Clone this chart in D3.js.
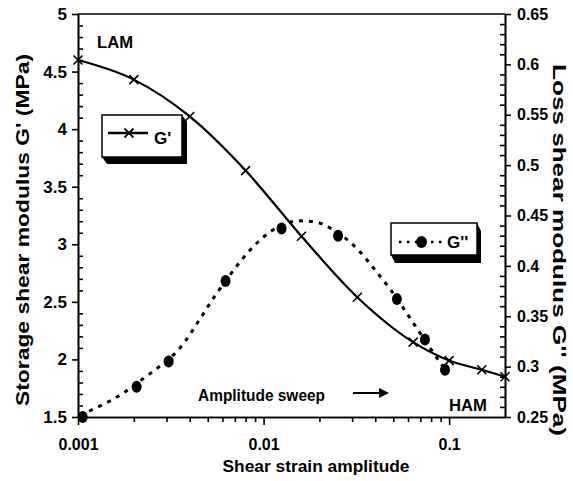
<!DOCTYPE html>
<html><head><meta charset="utf-8">
<script src="https://cdn.jsdelivr.net/npm/d3@7"></script>
<style>
html,body{margin:0;padding:0;background:#fff;}
svg{display:block;font-family:"Liberation Sans",Arial,Helvetica,sans-serif;font-weight:bold;}
</style></head><body>
<svg id="chart" width="573" height="481"></svg>
<script>
// Storage shear modulus G' (MPa) against shear strain amplitude
const strainStorage  = [0.001, 0.002, 0.004, 0.008, 0.016, 0.032, 0.064, 0.1, 0.15, 0.2];
const storageModulus = [4.60, 4.43, 4.11, 3.64, 3.07, 2.54, 2.15, 1.99, 1.91, 1.85];

// Loss shear modulus G'' (MPa), measured points
const strainLoss  = [0.00106, 0.00207, 0.00308, 0.00624, 0.0125, 0.0252, 0.0523, 0.0741, 0.095];
const lossModulus = [0.250, 0.280, 0.305, 0.385, 0.437, 0.430, 0.367, 0.327, 0.297];

// Fitted trend through the G'' points
const fitStrain = [0.001025, 0.001314, 0.001684, 0.002158, 0.002766, 0.003545, 0.004543, 0.005472,
                   0.006194, 0.007464, 0.00899, 0.01083, 0.01304, 0.01571, 0.01892, 0.0228,
                   0.02746, 0.03307, 0.03984, 0.04797, 0.0615, 0.07316, 0.09376];
const fitLoss   = [0.252, 0.2609, 0.2718, 0.2858, 0.3006, 0.3185, 0.3473, 0.3702,
                   0.3841, 0.4039, 0.4208, 0.4337, 0.4417, 0.4447, 0.4437, 0.4377,
                   0.4278, 0.4139, 0.396, 0.3771, 0.3483, 0.3275, 0.2987];

// Axis ticks and labels
const xTicks = [0.001, 0.01, 0.1];
const xTickLabels = ["0.001", "0.01", "0.1"];
const leftTicks = [1.5, 2, 2.5, 3, 3.5, 4, 4.5, 5];
const leftTickLabels = ["1.5", "2", "2.5", "3", "3.5", "4", "4.5", "5"];
const rightTicks = [0.25, 0.3, 0.35, 0.4, 0.45, 0.5, 0.55, 0.6, 0.65];
const rightTickLabels = ["0.25", "0.3", "0.35", "0.4", "0.45", "0.5", "0.55", "0.6", "0.65"];

const svg = d3.select("#chart");
const plotL = 78, plotR = 505, plotT = 14, plotB = 417;

const x = d3.scaleLog().domain([0.001, 0.2]).range([plotL, plotR]);
const yL = d3.scaleLinear().domain([1.5, 5]).range([plotB, plotT]);
const yR = d3.scaleLinear().domain([0.25, 0.65]).range([plotB, plotT]);

const axisStroke = 1.6;
function styleAxis(size) {
  return g => {
    g.selectAll("path,line").attr("stroke", "#000").attr("stroke-width", axisStroke);
    g.selectAll("text").attr("fill", "#000").attr("font-size", size).attr("font-weight", "bold")
      .attr("font-family", "'Liberation Sans', Arial, sans-serif");
  };
}

// minor tick values
const xMinor = [];
[0.001, 0.01, 0.1].forEach(dec => { for (let k = 2; k <= 9; k++) { const v = dec * k; if (v < 0.2 - 1e-9) xMinor.push(v); } });
const leftMinor = d3.range(15, 51).map(d => d / 10).filter(v => !leftTicks.some(t => Math.abs(t - v) < 1e-9));
const rightMinor = d3.range(25, 66).map(d => d / 100).filter(v => !rightTicks.some(t => Math.abs(t - v) < 1e-9));

// bottom axis
svg.append("g").attr("transform", `translate(0,${plotB})`)
  .call(d3.axisBottom(x).tickValues(xMinor).tickSize(5).tickSizeOuter(0).tickFormat(""))
  .call(styleAxis(16));
svg.append("g").attr("transform", `translate(0,${plotB})`)
  .call(d3.axisBottom(x).tickValues(xTicks).tickSize(8).tickSizeOuter(0).tickPadding(14)
    .tickFormat((d, i) => xTickLabels[i]))
  .call(styleAxis(16));

// left axis
svg.append("g").attr("transform", `translate(${plotL},0)`)
  .call(d3.axisLeft(yL).tickValues(leftMinor).tickSize(-5).tickSizeOuter(0).tickFormat(""))
  .call(styleAxis(17));
svg.append("g").attr("transform", `translate(${plotL},0)`)
  .call(d3.axisLeft(yL).tickValues(leftTicks).tickSize(6).tickSizeOuter(0).tickPadding(5)
    .tickFormat((d, i) => leftTickLabels[i]))
  .call(styleAxis(17));

// right axis
svg.append("g").attr("transform", `translate(${plotR},0)`)
  .call(d3.axisRight(yR).tickValues(rightMinor).tickSize(-5).tickSizeOuter(0).tickFormat(""))
  .call(styleAxis(16));
svg.append("g").attr("transform", `translate(${plotR},0)`)
  .call(d3.axisRight(yR).tickValues(rightTicks).tickSize(6).tickSizeOuter(0).tickPadding(6)
    .tickFormat((d, i) => rightTickLabels[i]))
  .call(styleAxis(16));

// top frame line
svg.append("line").attr("x1", plotL).attr("x2", plotR).attr("y1", plotT).attr("y2", plotT)
  .attr("stroke", "#000").attr("stroke-width", axisStroke);

// G'' fitted curve (dashed)
const fitLine = d3.line().curve(d3.curveMonotoneX)
  .x((d, i) => x(fitStrain[i])).y(d => yR(d));
svg.append("path").datum(fitLoss).attr("d", fitLine)
  .attr("fill", "none").attr("stroke", "#000").attr("stroke-width", 3)
  .attr("stroke-dasharray", "4,6");

// G'' points
svg.append("g").selectAll("ellipse").data(lossModulus).join("ellipse")
  .attr("cx", (d, i) => x(strainLoss[i])).attr("cy", d => yR(d))
  .attr("rx", 5).attr("ry", 6).attr("fill", "#000");

// G' curve
const storageLine = d3.line().curve(d3.curveMonotoneX)
  .x((d, i) => x(strainStorage[i])).y(d => yL(d));
svg.append("path").datum(storageModulus).attr("d", storageLine)
  .attr("fill", "none").attr("stroke", "#000").attr("stroke-width", 2.2);

const crossPath = "M-4.5,-4.5L4.5,4.5M-4.5,4.5L4.5,-4.5";
svg.append("g").selectAll("path").data(storageModulus).join("path")
  .attr("transform", (d, i) => `translate(${x(strainStorage[i])},${yL(d)})`)
  .attr("d", crossPath).attr("stroke", "#000").attr("stroke-width", 1.6).attr("fill", "none");

// legend boxes with a bevelled drop shadow
function legendBox(x0, y0, w, h, dx, dy) {
  const g = svg.append("g");
  const pts = [[x0 + w, y0], [x0 + w + dx, y0 + dy], [x0 + w + dx, y0 + h + dy],
               [x0 + dx, y0 + h + dy], [x0, y0 + h], [x0 + w, y0 + h]];
  g.append("polygon").attr("points", pts.map(p => p.join(",")).join(" ")).attr("fill", "#000");
  g.append("rect").attr("x", x0).attr("y", y0).attr("width", w).attr("height", h)
    .attr("fill", "#fff").attr("stroke", "#000").attr("stroke-width", 1.5);
  return g;
}

const lg1 = legendBox(102, 115, 80, 42, 5, 7);
lg1.append("line").attr("x1", 108).attr("x2", 148).attr("y1", 133).attr("y2", 133)
  .attr("stroke", "#000").attr("stroke-width", 2.5);
lg1.append("path").attr("transform", "translate(129,133)").attr("d", crossPath)
  .attr("stroke", "#000").attr("stroke-width", 1.8).attr("fill", "none");
lg1.append("text").attr("x", 154).attr("y", 144).attr("font-size", 17).text("G'");

const lg2 = legendBox(391, 223, 86, 32, 4, 8);
lg2.append("line").attr("x1", 399).attr("x2", 442).attr("y1", 242).attr("y2", 242)
  .attr("stroke", "#000").attr("stroke-width", 2.6).attr("stroke-dasharray", "2.5,5.5");
lg2.append("ellipse").attr("cx", 421.5).attr("cy", 242).attr("rx", 5.5).attr("ry", 6).attr("fill", "#000");
lg2.append("text").attr("x", 447).attr("y", 247.5).attr("font-size", 17).text("G''");

// annotations
svg.append("text").attr("x", 97).attr("y", 48).attr("font-size", 17)
  .attr("textLength", 36).attr("lengthAdjust", "spacingAndGlyphs").text("LAM");
svg.append("text").attr("x", 449).attr("y", 411).attr("font-size", 17)
  .attr("textLength", 38).attr("lengthAdjust", "spacingAndGlyphs").text("HAM");
svg.append("text").attr("x", 198).attr("y", 401).attr("font-size", 17)
  .attr("textLength", 127).attr("lengthAdjust", "spacingAndGlyphs").text("Amplitude sweep");

// sweep arrow
svg.append("line").attr("x1", 353).attr("x2", 381).attr("y1", 393).attr("y2", 393)
  .attr("stroke", "#000").attr("stroke-width", 2);
svg.append("path").attr("d", "M379,388L389,393L379,398Z").attr("fill", "#000");

// axis titles
svg.append("text").attr("x", 316).attr("y", 472).attr("text-anchor", "middle").attr("font-size", 17)
  .attr("textLength", 187).attr("lengthAdjust", "spacingAndGlyphs").text("Shear strain amplitude");
svg.append("text").attr("transform", "translate(29,230) rotate(-90)").attr("text-anchor", "middle")
  .attr("font-size", 18).attr("textLength", 352).attr("lengthAdjust", "spacingAndGlyphs")
  .text("Storage shear modulus G' (MPa)");
svg.append("text").attr("transform", "translate(553,250) rotate(90)").attr("text-anchor", "middle")
  .attr("font-size", 18).attr("textLength", 372).attr("lengthAdjust", "spacingAndGlyphs")
  .text("Loss shear modulus G'' (MPa)");
</script>
</body></html>
